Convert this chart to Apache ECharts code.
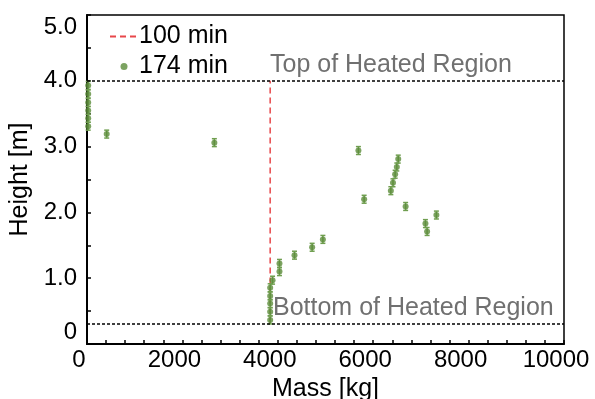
<!DOCTYPE html>
<html>
<head>
<meta charset="utf-8">
<script src="https://cdn.jsdelivr.net/npm/echarts@6/dist/echarts.min.js"></script>
<style>
html, body { margin: 0; padding: 0; background: #fff; }
#chart { width: 595px; height: 399px; }
</style>
</head>
<body>
<div id="chart"></div>
<script>
// 174 min profile: mass [kg], height [m], error [m]
var mass174 = [25, 25, 25, 25, 25, 25, 413, 2670,
	3840, 3840, 3840, 3840, 3840, 3890, 4035, 4035, 4350, 4720, 4945,
	5690, 5810, 6370, 6415, 6460, 6495, 6525, 6680, 7095, 7130, 7325];
var height174 = [3.93, 3.80, 3.67, 3.55, 3.43, 3.31, 3.19, 3.06,
	0.365, 0.49, 0.615, 0.73, 0.855, 0.97, 1.10, 1.225, 1.35, 1.47, 1.59,
	2.94, 2.20, 2.33, 2.45, 2.58, 2.69, 2.81, 2.09, 1.83, 1.71, 1.96];
var err174 = [0.06, 0.06, 0.06, 0.06, 0.06, 0.06, 0.06, 0.06,
	0.06, 0.06, 0.06, 0.06, 0.06, 0.06, 0.06, 0.06, 0.06, 0.06, 0.06,
	0.06, 0.06, 0.06, 0.06, 0.06, 0.06, 0.06, 0.06, 0.06, 0.06, 0.06];
// 100 min profile
var mass100 = [3840, 3840];
var height100 = [0.31, 4.0];
// heated region limits
var topRegion = 4.0;
var bottomRegion = 0.31;

var font = 'Liberation Sans';
var green = '#5b8c3a';

var pts = [];
for (var i = 0; i < mass174.length; i++) {
	pts.push([mass174[i], height174[i], err174[i]]);
}
var line100 = [];
for (var i = 0; i < mass100.length; i++) {
	line100.push([mass100[i], height100[i]]);
}

var myChart = echarts.init(document.getElementById('chart'));
var option = {
	animation: false,
	textStyle: { fontFamily: font },
	grid: {
		left: 87,
		right: 31,
		top: 15,
		bottom: 55,
		outerBoundsMode: 'none',
		show: true,
		borderColor: '#000',
		borderWidth: 1.5
	},
	legend: {
		orient: 'vertical',
		left: 104,
		top: 19,
		itemGap: 5,
		itemWidth: 28,
		itemHeight: 7,
		textStyle: { fontFamily: font, fontSize: 25, color: '#000', padding: [0, 0, 0, -4] },
		data: [
			{ name: '100 min', itemStyle: { color: 'rgba(0,0,0,0)', borderWidth: 0 } },
			{ name: '174 min', icon: 'circle' }
		]
	},
	xAxis: {
		type: 'value',
		min: 0,
		max: 10000,
		interval: 2000,
		name: 'Mass [kg]',
		nameLocation: 'middle',
		nameGap: 26,
		nameTextStyle: { fontFamily: font, fontSize: 25, color: '#000' },
		axisLine: { lineStyle: { color: '#000', width: 2 } },
		axisTick: { inside: true, length: 4, lineStyle: { color: '#000', width: 1.5 } },
		minorTick: { show: true, splitNumber: 5, length: 4, lineStyle: { color: '#000', width: 1.5 } },
		axisLabel: {
			fontFamily: font, fontSize: 24, color: '#000', margin: 4, padding: [0, 16, 0, 0],
			formatter: function(v) { return String(v); }
		},
		splitLine: { show: false }
	},
	yAxis: {
		type: 'value',
		min: 0,
		max: 5,
		interval: 1,
		name: 'Height [m]',
		nameLocation: 'middle',
		nameGap: 52,
		nameTextStyle: { fontFamily: font, fontSize: 25, color: '#000' },
		axisLine: { lineStyle: { color: '#000', width: 2 } },
		axisTick: { inside: true, length: 4, lineStyle: { color: '#000', width: 1.5 } },
		minorTick: { show: true, splitNumber: 2, length: 4, lineStyle: { color: '#000', width: 1.5 } },
		axisLabel: {
			fontFamily: font, fontSize: 24, color: '#000', margin: 10,
			verticalAlignMaxLabel: 'top',
			verticalAlignMinLabel: 'bottom',
			formatter: function(v) { return v === 0 ? '0' : v.toFixed(1); }
		},
		splitLine: { show: false }
	},
	series: [
		{
			name: '100 min',
			type: 'line',
			data: line100,
			symbol: 'none',
			color: '#e8474a',
			lineStyle: { color: '#e8474a', width: 1.5, type: [6, 4] },
			z: 3,
			markLine: {
				silent: true,
				symbol: 'none',
				label: { show: false },
				lineStyle: { color: '#000', width: 1.5, type: [3, 2] },
				data: [{ yAxis: topRegion }, { yAxis: bottomRegion }]
			}
		},
		{
			name: '174 min err',
			type: 'custom',
			data: pts,
			z: 4,
			clip: false,
			renderItem: function(params, api) {
				var x = api.value(0), y = api.value(1), e = api.value(2);
				var hi = api.coord([x, y + e]);
				var lo = api.coord([x, y - e]);
				var w = 2.5;
				var st = { stroke: '#6f9e4f', lineWidth: 1.5 };
				return {
					type: 'group',
					children: [
						{ type: 'line', shape: { x1: hi[0], y1: hi[1], x2: lo[0], y2: lo[1] }, style: st },
						{ type: 'line', shape: { x1: hi[0] - w, y1: hi[1], x2: hi[0] + w, y2: hi[1] }, style: st },
						{ type: 'line', shape: { x1: lo[0] - w, y1: lo[1], x2: lo[0] + w, y2: lo[1] }, style: st }
					]
				};
			}
		},
		{
			name: '174 min',
			type: 'scatter',
			data: pts,
			symbol: 'circle',
			symbolSize: 6,
			clip: false,
			z: 5,
			itemStyle: { color: green }
		}
	],
	graphic: [
		{
			type: 'text',
			left: 270,
			top: 53,
			style: { text: 'Top of Heated Region', fontFamily: font, fontSize: 25, fill: '#707070' }
		},
		{
			type: 'text',
			left: 273,
			top: 296,
			style: { text: 'Bottom of Heated Region', fontFamily: font, fontSize: 25, fill: '#707070' }
		}
	]
};
myChart.setOption(option);
</script>
</body>
</html>
